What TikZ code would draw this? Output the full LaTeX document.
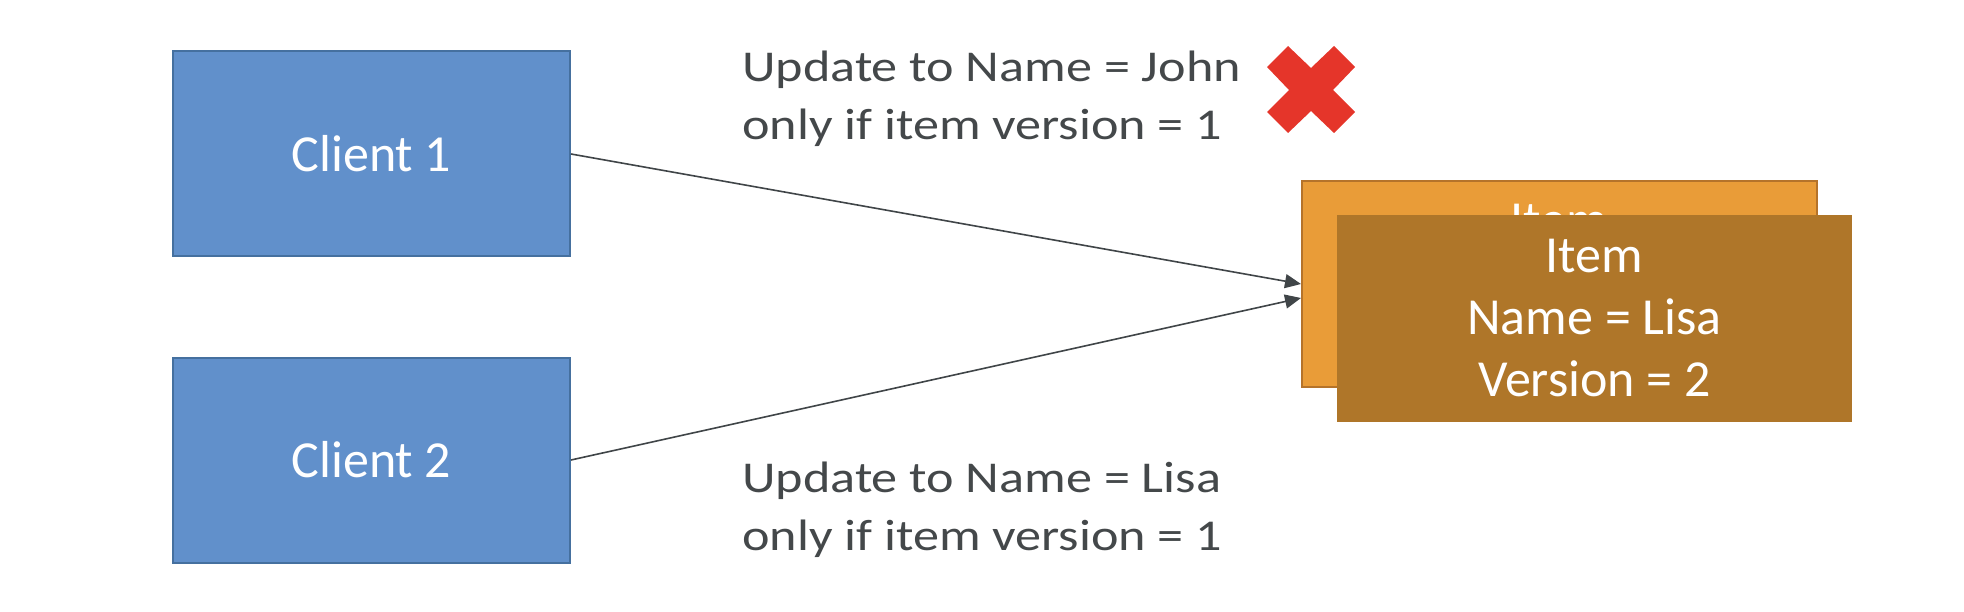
\documentclass[tikz,border=0pt]{standalone}
\usepackage{fontspec}
\setmainfont{Carlito}
\newfontfamily\labfont[FakeStretch=1.186]{Carlito}
\usetikzlibrary{arrows.meta}
\definecolor{cblue}{HTML}{6190CB}
\definecolor{cblueb}{HTML}{45709F}
\definecolor{orback}{HTML}{E99C38}
\definecolor{orbackb}{HTML}{B5732A}
\definecolor{orfront}{HTML}{AF7629}
\definecolor{labgray}{HTML}{44484A}
\definecolor{arrgray}{HTML}{404548}
\definecolor{xred}{HTML}{E5352A}
\tikzset{
  client/.style={draw=cblueb, line width=2pt, fill=cblue, minimum width=397pt, minimum height=205pt,
    inner sep=0pt, text=white, font=\fontsize{52}{62}\selectfont},
  itemback/.style={draw=orbackb, line width=2pt, fill=orback, minimum width=515pt, minimum height=206pt, inner sep=0pt},
  itemfront/.style={fill=orfront, minimum width=515pt, minimum height=207pt, inner sep=0pt,
    text=white, align=center, font=\fontsize{52}{62}\selectfont},
  lab/.style={text=labgray, align=left, inner sep=0pt, font=\labfont\fontsize{44}{58}\selectfont},
  arr/.style={draw=arrgray, line width=1.6pt, -{Triangle[length=16pt,width=14pt]}}
}
\begin{document}
\begin{tikzpicture}[x=1pt,y=-1pt]
\useasboundingbox (0,0) rectangle (1964,612);
\node[client] (c1) at (371.5,154) {Client 1};
\node[client] (c2) at (371.5,460) {Client 2};
\node[itemback] (back) at (1559.5,284) {};
\node[text=white, inner sep=0pt, font=\fontsize{52}{62}\selectfont, anchor=base] (backt) at (1559.5,238) {Item};
\draw[arr] (c1.east) -- (back.west);
\draw[arr] (c2.east) -- ([yshift=-14pt]back.west);
\node[itemfront] (front) at (1594.5,318.5) {Item\\Name = Lisa\\Version = 2};
\node[lab, anchor=base west] (l1) at (742,140) {Update to Name = John\\only if item version = 1};
\node[lab, anchor=base west] (l2) at (742,550) {Update to Name = Lisa\\only if item version = 1};
\fill[xred] (1288,46) -- (1311,68) -- (1334,46) -- (1355,67) -- (1333,90) -- (1355,112)
  -- (1334,133) -- (1311,111) -- (1288,133) -- (1267,112) -- (1289,90) -- (1267,67) -- cycle;
\end{tikzpicture}
\end{document}
